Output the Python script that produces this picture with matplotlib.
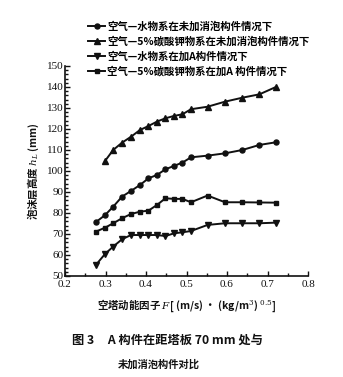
import matplotlib
matplotlib.use("Agg")
import matplotlib.pyplot as plt
from matplotlib.ticker import MultipleLocator

plt.rcParams['font.family'] = ['Noto Sans CJK SC', 'DejaVu Sans']
plt.rcParams['mathtext.fontset'] = 'dejavuserif'

# F factor, shared by all four runs
F = [0.276, 0.299, 0.319, 0.341, 0.363, 0.385, 0.406, 0.427, 0.448,
     0.469, 0.490, 0.511, 0.552, 0.595, 0.638, 0.680, 0.722]

# foam height h_L (mm)
water_plain = [75.6, 79.0, 83.0, 87.8, 90.5, 93.3, 96.5, 98.1, 100.8,
               102.4, 104.0, 106.5, 107.3, 108.4, 110.0, 112.4, 113.7]
k2co3_plain = [104.8, 110.0, 113.5, 116.3, 119.5, 121.4, 123.5, 125.1,
               126.2, 127.0, 129.4, 130.6, 133.0, 134.9, 136.5, 140.1]
water_a = [55.2, 60.5, 64.0, 67.5, 69.5, 69.5, 69.5, 69.5, 69.0,
           70.3, 70.8, 71.4, 74.3, 75.1, 75.1, 75.1, 75.4]
k2co3_a = [71.1, 73.0, 75.1, 77.5, 79.5, 80.6, 81.1, 83.8, 87.0,
           86.7, 86.7, 85.1, 88.3, 85.1, 85.1, 85.0, 84.9]

labels = ['空气—水物系在未加消泡构件情况下',
          '空气—5%碳酸钾物系在未加消泡构件情况下',
          '空气—水物系在加A构件情况下',
          '空气—5%碳酸钾物系在加A 构件情况下']

fig = plt.figure(figsize=(3.43, 3.77), dpi=100)
ax = fig.add_axes([0.1895, 0.268, 0.7085, 0.557])

c = '#111111'
kw = dict(color=c, lw=1.4)
h1, = ax.plot(F, water_plain, marker='o', ms=3.6, **kw)
h2, = ax.plot(F[1:], k2co3_plain, marker='^', ms=4.2, **kw)
h3, = ax.plot(F, water_a, marker='v', ms=4.2, **kw)
h4, = ax.plot(F, k2co3_a, marker='s', ms=3.0, **kw)

ax.set_xlim(0.2, 0.8)
ax.set_ylim(50, 150)
ax.xaxis.set_minor_locator(MultipleLocator(0.05))
ax.yaxis.set_major_locator(MultipleLocator(10))
ax.yaxis.set_minor_locator(MultipleLocator(2))
ax.set_xticks([0.2, 0.3, 0.4, 0.5, 0.6, 0.7, 0.8])
ax.set_xticklabels(['0.2', '0.3', '0.4', '0.5', '0.6', '0.7', '0.8'])
ax.tick_params(which='both', direction='in', color=c, width=1.0,
               labelcolor=c)
ax.tick_params(which='major', length=3.5)
ax.tick_params(which='minor', length=2)
for lab in ax.get_xticklabels() + ax.get_yticklabels():
    lab.set_family('Liberation Serif')
    lab.set_fontsize(8)
ax.tick_params(axis='y', pad=1)
ax.tick_params(axis='x', pad=3)
for s in ['top', 'right']:
    ax.spines[s].set_visible(False)
for s in ['left', 'bottom']:
    ax.spines[s].set_linewidth(1.2)
    ax.spines[s].set_color(c)

ax.set_ylabel('泡沫层高度 $h_L$ (mm)', fontsize=7.5, fontweight='bold',
              color=c, labelpad=4)
ax.set_xlabel('空塔动能因子 $F$[ (m/s) · (kg/m$^3$) $^{0.5}$]', fontsize=7.5,
              fontweight='bold', color=c, labelpad=6)

fig.legend([h1, h2, h3, h4], labels, loc='upper left',
           bbox_to_anchor=(0.245, 0.955), frameon=False, handlelength=1.6,
           handletextpad=0.25, labelspacing=0.42, borderaxespad=0,
           prop={'family': ['Noto Sans CJK SC', 'DejaVu Sans'],
                 'weight': 'bold', 'size': 7.5})

fig.text(0.21, 0.098, '图 3     A 构件在距塔板 70 mm 处与', fontsize=8.8,
         color=c, ha='left', va='center', fontweight='bold')
fig.text(0.344, 0.034, '未加消泡构件对比', fontsize=7.4, color=c,
         ha='left', va='center', fontweight='bold')

fig.savefig('out.png', dpi=100)
